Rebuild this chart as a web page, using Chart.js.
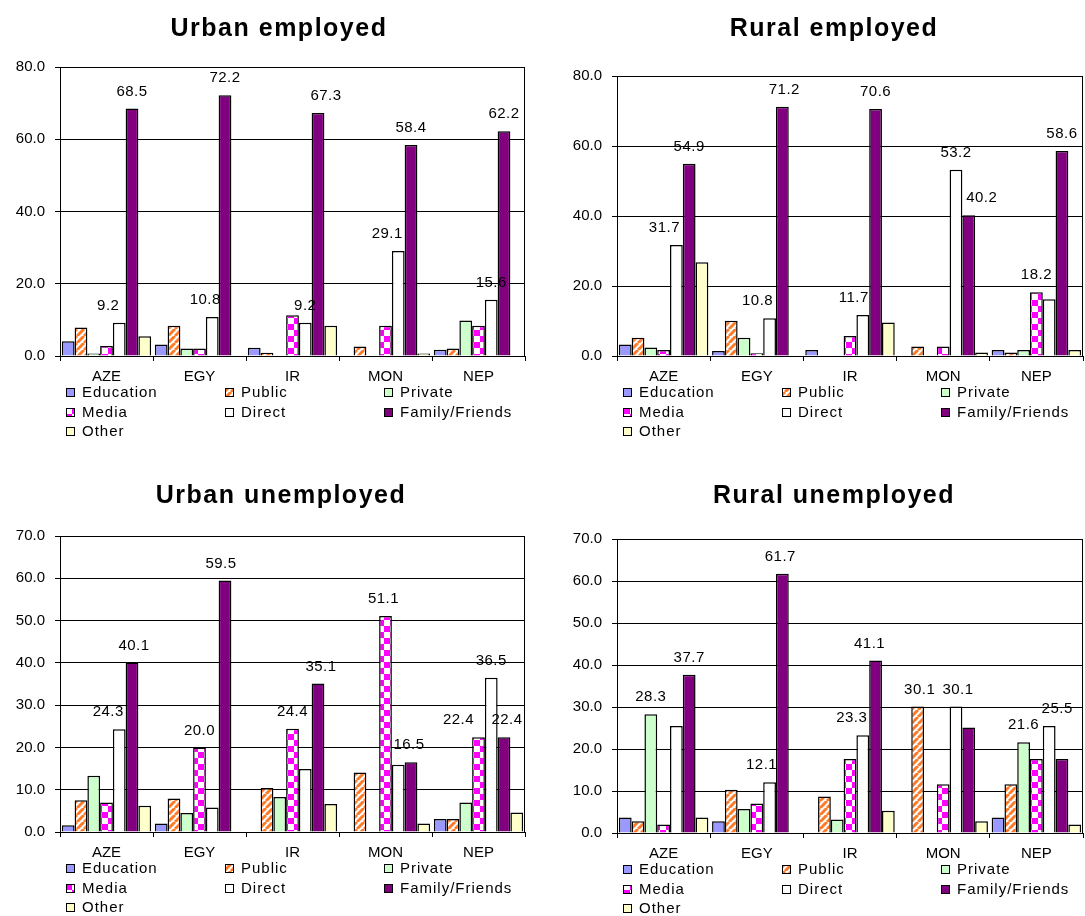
<!DOCTYPE html>
<html>
<head>
<meta charset="utf-8">
<title>Job search channels</title>
<script src="https://cdn.jsdelivr.net/npm/chart.js@4.4.1/dist/chart.umd.min.js"></script>
<style>
  html, body { margin: 0; padding: 0; background: #fff; }
  body { width: 1085px; height: 916px; position: relative; overflow: hidden; }
  canvas { position: absolute; }
</style>
</head>
<body>
<canvas id="ue" width="540" height="452" style="left:0;top:0"></canvas>
<canvas id="re" width="545" height="452" style="left:540px;top:0"></canvas>
<canvas id="uu" width="540" height="458" style="left:0;top:458px"></canvas>
<canvas id="ru" width="545" height="458" style="left:540px;top:458px"></canvas>
<script>
// Countries on the x axis and the seven job-search channels
const categories = ['AZE', 'EGY', 'IR', 'MON', 'NEP'];
const seriesNames = ['Education', 'Public', 'Private', 'Media', 'Direct', 'Family/Friends', 'Other'];

// Urban employed (%)
const ueEducation = [4.1, 3.2, 2.3, 0, 1.7];
const uePublic    = [7.9, 8.4, 0.9, 2.6, 2.1];
const uePrivate   = [0.7, 2.1, 0, 0, 9.8];
const ueMedia     = [2.8, 2.1, 11.3, 8.4, 8.4];
const ueDirect    = [9.2, 10.8, 9.2, 29.1, 15.6];
const ueFamily    = [68.5, 72.2, 67.3, 58.4, 62.2];
const ueOther     = [5.5, 0, 8.4, 0.7, 0];

// Rural employed (%)
const reEducation = [3.3, 1.4, 1.7, 0, 1.7];
const rePublic    = [5.2, 10.1, 0, 2.7, 1.0];
const rePrivate   = [2.4, 5.2, 0, 0, 1.7];
const reMedia     = [1.7, 0.8, 5.7, 2.7, 18.2];
const reDirect    = [31.7, 10.8, 11.7, 53.2, 16.2];
const reFamily    = [54.9, 71.2, 70.6, 40.2, 58.6];
const reOther     = [26.8, 0, 9.6, 1.0, 1.7];

// Urban unemployed (%)
const uuEducation = [1.6, 2.0, 0, 0, 3.1];
const uuPublic    = [7.5, 7.9, 10.4, 14.1, 3.1];
const uuPrivate   = [13.3, 4.5, 8.3, 0, 7.0];
const uuMedia     = [7.0, 20.0, 24.4, 51.1, 22.4];
const uuDirect    = [24.3, 5.8, 14.9, 15.9, 36.5];
const uuFamily    = [40.1, 59.5, 35.1, 16.5, 22.4];
const uuOther     = [6.2, 0, 6.6, 2.0, 4.6];

// Rural unemployed (%)
const ruEducation = [3.7, 2.8, 0, 0, 3.7];
const ruPublic    = [2.8, 10.3, 8.7, 30.1, 11.6];
const ruPrivate   = [28.3, 5.7, 3.2, 0, 21.6];
const ruMedia     = [2.0, 7.0, 17.6, 11.6, 17.6];
const ruDirect    = [25.5, 12.1, 23.3, 30.1, 25.5];
const ruFamily    = [37.7, 61.7, 41.1, 25.1, 17.6];
const ruOther     = [3.7, 0, 5.3, 2.8, 2.0];

// Y axis tick values
const ticksEmployed = [0, 20, 40, 60, 80];
const ticksUnemployed = [0, 10, 20, 30, 40, 50, 60, 70];

// Bars that carry a value label: [series index, category index, horizontal nudge px]
const ueLabelled = [[4,0,-11],[5,0,0],[4,1,-7],[5,1,0],[4,2,0],[5,2,8],[4,3,-11],[5,3,0],[4,4,0],[5,4,0]];
const reLabelled = [[4,0,-12],[5,0,0],[4,1,-12],[5,1,2],[4,2,-9],[5,2,0],[4,3,0],[5,3,13],[3,4,0],[5,4,0]];
const uuLabelled = [[4,0,-11],[5,0,2],[3,1,0],[5,1,-4],[3,2,0],[5,2,3],[3,3,-2],[5,3,-2],[3,4,-20],[4,4,0],[5,4,3]];
const ruLabelled = [[2,0,0],[5,0,0],[4,1,-8],[5,1,-2],[4,2,-11],[5,2,-6],[1,3,2],[4,3,2],[2,4,0],[4,4,8]];

const FONT = "'Liberation Sans', Arial, sans-serif";
Chart.defaults.font.family = FONT;
Chart.defaults.color = '#000';

// Fill patterns
function tile(size, paint) {
  const c = document.createElement('canvas');
  c.width = size; c.height = size;
  const g = c.getContext('2d');
  paint(g, size);
  return document.createElement('canvas').getContext('2d').createPattern(c, 'repeat');
}
const stripes = tile(7, (g, s) => {
  g.fillStyle = '#fff'; g.fillRect(0, 0, s, s);
  g.strokeStyle = '#ff7a26'; g.lineWidth = 3;
  for (const o of [-s, 0, s]) {
    g.beginPath(); g.moveTo(o, s); g.lineTo(o + s, 0); g.stroke();
  }
});
const checks = tile(12, (g, s) => {
  g.fillStyle = '#fff'; g.fillRect(0, 0, s, s);
  g.fillStyle = '#ff00ff';
  g.fillRect(0, 0, s / 2, s / 2); g.fillRect(s / 2, s / 2, s / 2, s / 2);
});
const dots = tile(8, (g, s) => {
  g.fillStyle = '#fff'; g.fillRect(0, 0, s, s);
  g.fillStyle = '#e4fbff'; g.fillRect(3, 3, 1, 1);
});
const fills = ['#9999ff', stripes, '#ccffcc', checks, dots, '#800080', '#ffffcc'];

// Title: centred on a chosen x, drawn with a little letter spacing
const titlePlacement = {
  id: 'titlePlacement',
  afterInit(chart) {
    const tb = chart.titleBlock;
    const draw = tb.draw;
    tb.draw = function () {
      const ctx = this.ctx;
      ctx.save();
      if ('letterSpacing' in ctx) ctx.letterSpacing = '1.5px';
      draw.apply(this, arguments);
      ctx.restore();
    };
  },
  afterLayout(chart, args, opts) {
    const tb = chart.titleBlock;
    const shift = opts.centerX - (tb.left + tb.right) / 2;
    tb.left += shift;
    tb.right += shift;
  }
};

// Black frame round the plot area
const plotFrame = {
  id: 'plotFrame',
  beforeDatasetsDraw(chart) {
    const { ctx, chartArea: a } = chart;
    ctx.save();
    ctx.strokeStyle = '#000'; ctx.lineWidth = 1;
    ctx.strokeRect(Math.round(a.left) + 0.5, Math.round(a.top) + 0.5,
                   Math.round(a.right - a.left) - 1, Math.round(a.bottom - a.top));
    ctx.restore();
  }
};

// Values written above selected bars
const valueLabels = {
  id: 'valueLabels',
  afterDatasetsDraw(chart, args, opts) {
    const ctx = chart.ctx;
    ctx.save();
    ctx.font = '15px ' + FONT;
    if ('letterSpacing' in ctx) ctx.letterSpacing = '0.5px';
    ctx.fillStyle = '#000';
    ctx.textAlign = 'center';
    ctx.textBaseline = 'middle';
    (opts.items || []).forEach(([ds, idx, dx]) => {
      const el = chart.getDatasetMeta(ds).data[idx];
      const v = chart.data.datasets[ds].data[idx];
      ctx.fillText(v.toFixed(1), el.x + dx, el.y - 17);
    });
    ctx.restore();
  }
};

// Three-column legend under the x axis
const gridLegend = {
  id: 'gridLegend',
  afterDraw(chart, args, opts) {
    const { ctx, chartArea: a } = chart;
    ctx.save();
    ctx.font = '15px ' + FONT;
    if ('letterSpacing' in ctx) ctx.letterSpacing = '1px';
    ctx.textAlign = 'left';
    ctx.textBaseline = 'middle';
    chart.data.datasets.forEach((ds, i) => {
      const x = Math.round(a.left + opts.colX[i % 3]);
      const y = Math.round(a.bottom + opts.rowY[Math.floor(i / 3)]);
      ctx.fillStyle = ds.backgroundColor;
      ctx.fillRect(x, y - 4, 9, 9);
      ctx.strokeStyle = '#000'; ctx.lineWidth = 1;
      ctx.strokeRect(x + 0.5, y - 3.5, 8, 8);
      ctx.fillStyle = '#000';
      ctx.fillText(ds.label, x + 16, y + 1);
    });
    ctx.restore();
  }
};

function build(id, title, series, yTicks, labelled, geo) {
  const yMax = yTicks[yTicks.length - 1];
  const step = yTicks[1] - yTicks[0];
  return new Chart(document.getElementById(id), {
    type: 'bar',
    data: {
      labels: categories,
      datasets: series.map((vals, i) => ({
        label: seriesNames[i],
        data: vals,
        backgroundColor: fills[i],
        borderColor: '#000',
        borderWidth: 1.5,
        borderSkipped: 'bottom',
        categoryPercentage: 0.96,
        barPercentage: 1.0
      }))
    },
    options: {
      responsive: false,
      animation: false,
      devicePixelRatio: 1,
      layout: { padding: { left: 0, right: geo.padR, top: 0, bottom: geo.padB } },
      scales: {
        x: {
          afterFit: s => { s.height = 30; },
          grid: { display: true, drawOnChartArea: false, drawTicks: true, tickLength: 5, color: '#000', offset: true },
          border: { display: true, color: '#000', width: 1 },
          ticks: { font: { size: 15 }, padding: 7, color: '#000', maxRotation: 0 }
        },
        y: {
          min: 0, max: yMax,
          afterFit: s => { s.width = geo.yW; },
          afterBuildTicks: s => { s.ticks = yTicks.map(v => ({ value: v })); },
          grid: { color: '#000', lineWidth: 1, drawTicks: true, tickLength: 5 },
          border: { display: true, color: '#000', width: 1 },
          ticks: { stepSize: step, font: { size: 15 }, padding: 10, color: '#000', callback: v => Number(v).toFixed(1) }
        }
      },
      plugins: {
        legend: { display: false },
        tooltip: { enabled: false },
        title: {
          display: true,
          text: title,
          color: '#000',
          font: { size: 25, weight: 'bold', lineHeight: 1.2 },
          padding: { top: geo.titleTop, bottom: geo.titleBottom }
        },
        titlePlacement: { centerX: geo.titleX },
        valueLabels: { items: labelled },
        gridLegend: { colX: [6, 165, 324], rowY: [36, 56, 75] }
      }
    },
    plugins: [titlePlacement, plotFrame, valueLabels, gridLegend]
  });
}

build('ue', 'Urban employed',
  [ueEducation, uePublic, uePrivate, ueMedia, ueDirect, ueFamily, ueOther],
  ticksEmployed, ueLabelled,
  { padR: 15, padB: 66, yW: 60, titleTop: 14, titleBottom: 23, titleX: 279 });

build('re', 'Rural employed',
  [reEducation, rePublic, rePrivate, reMedia, reDirect, reFamily, reOther],
  ticksEmployed, reLabelled,
  { padR: 2, padB: 66, yW: 77, titleTop: 14, titleBottom: 32, titleX: 294 });

build('uu', 'Urban unemployed',
  [uuEducation, uuPublic, uuPrivate, uuMedia, uuDirect, uuFamily, uuOther],
  ticksUnemployed, uuLabelled,
  { padR: 15, padB: 54, yW: 60, titleTop: 23, titleBottom: 25, titleX: 281 });

build('ru', 'Rural unemployed',
  [ruEducation, ruPublic, ruPrivate, ruMedia, ruDirect, ruFamily, ruOther],
  ticksUnemployed, ruLabelled,
  { padR: 2, padB: 53, yW: 77, titleTop: 23, titleBottom: 28, titleX: 294 });
</script>
</body>
</html>
